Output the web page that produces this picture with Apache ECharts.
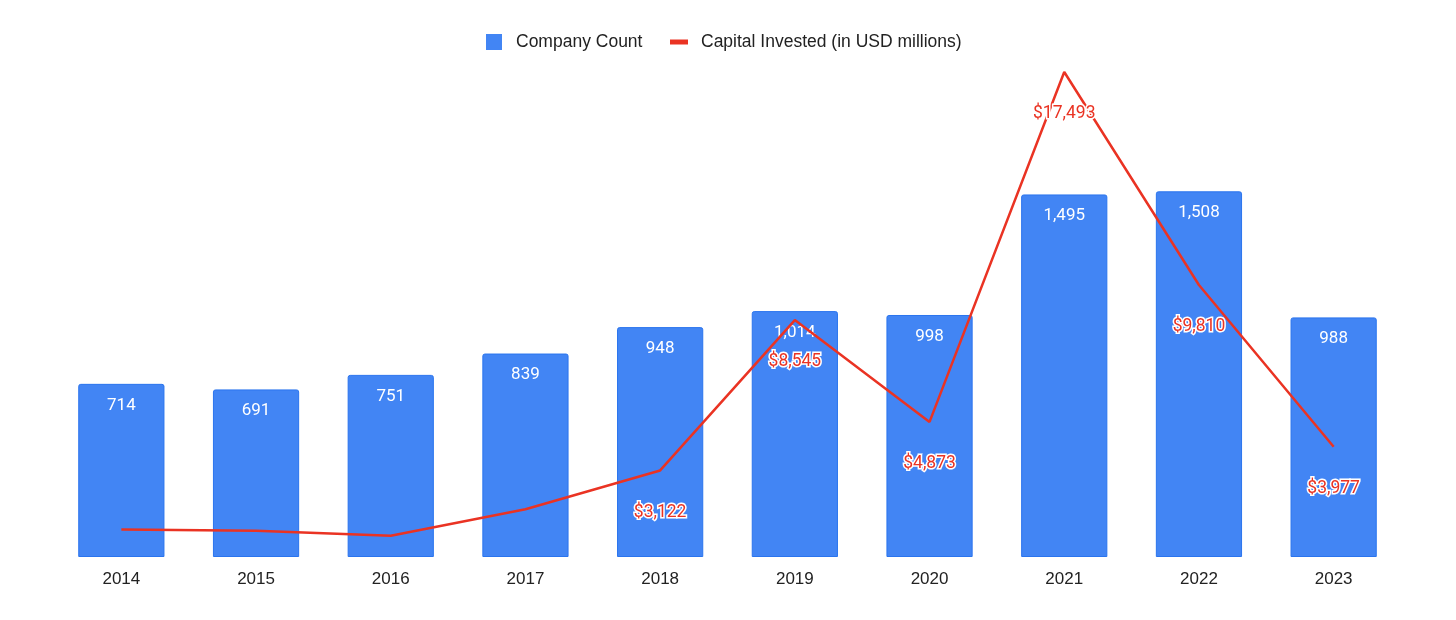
<!DOCTYPE html>
<html>
<head>
<meta charset="utf-8">
<script src="https://cdn.jsdelivr.net/npm/echarts@6/dist/echarts.min.js"></script>
<style>html,body{margin:0;padding:0;background:#fff;}#c{width:1456px;height:620px;}</style>
</head>
<body>
<div id="c"></div>
<script>
const years = ['2014','2015','2016','2017','2018','2019','2020','2021','2022','2023'];
const companyCount = [714, 691, 751, 839, 948, 1014, 998, 1495, 1508, 988];
const capitalInvested = [993, 950, 770, 1722, 3122, 8545, 4873, 17493, 9810, 3977];
const capitalLabelShown = [false, false, false, false, true, true, true, true, true, true];

const chart = echarts.init(document.getElementById('c'));
const fontMain = 'Arial, "Liberation Sans", sans-serif';
chart.setOption({
  animation: false,
  backgroundColor: '#ffffff',
  legend: [
    {
      data: ['Company Count'],
      left: 481, top: 28,
      icon: 'rect', itemWidth: 16, itemHeight: 16,
      itemStyle: { borderWidth: 0 },
      textStyle: { fontFamily: fontMain, fontSize: 17.5, color: '#222', padding: [0,0,0,9] }
    },
    {
      data: ['Capital Invested (in USD millions)'],
      left: 665, top: 28,
      icon: 'rect', itemWidth: 18, itemHeight: 5,
      itemStyle: { borderWidth: 0 },
      textStyle: { fontFamily: fontMain, fontSize: 17.5, color: '#222', padding: [0,0,0,8] }
    }
  ],
  grid: { left: 54, right: 55, top: 72, bottom: 63 },
  xAxis: {
    type: 'category',
    data: years,
    axisLine: { show: false },
    axisTick: { show: false },
    axisLabel: { fontFamily: fontMain, fontSize: 17, color: '#222', margin: 14 }
  },
  yAxis: [
    { type: 'value', min: 0, max: 2000, show: false, splitLine: { show: false } },
    { type: 'value', min: 0, max: 17493, show: false, splitLine: { show: false } }
  ],
  series: [
    {
      name: 'Company Count',
      type: 'bar',
      yAxisIndex: 0,
      data: companyCount,
      barWidth: '64%',
      itemStyle: { color: '#4285F4', borderColor: '#2a74ee', borderWidth: 1, borderRadius: [2,2,0,0] },
      label: {
        show: true, position: 'insideTop', distance: 13,
        color: '#ffffff', fontFamily: 'Roboto, sans-serif', fontSize: 17,
        textBorderColor: '#4285F4', textBorderWidth: 2,
        formatter: p => p.value.toLocaleString('en-US')
      },
      z: 2
    },
    {
      name: 'Capital Invested (in USD millions)',
      type: 'line',
      yAxisIndex: 1,
      data: capitalInvested.map((v, i) => ({
        value: v,
        label: { show: capitalLabelShown[i] }
      })),
      symbol: 'circle',
      symbolSize: 0,
      showSymbol: true,
      lineStyle: { color: '#EA3323', width: 2.5 },
      itemStyle: { color: '#EA3323' },
      label: {
        show: true, position: 'bottom', distance: 33,
        color: '#EA3323', fontFamily: 'Roboto, sans-serif', fontSize: 17.5,
        textBorderColor: '#ffffff', textBorderWidth: 3,
        formatter: p => '$' + p.value.toLocaleString('en-US')
      },
      z: 3
    }
  ]
});
</script>
</body>
</html>
